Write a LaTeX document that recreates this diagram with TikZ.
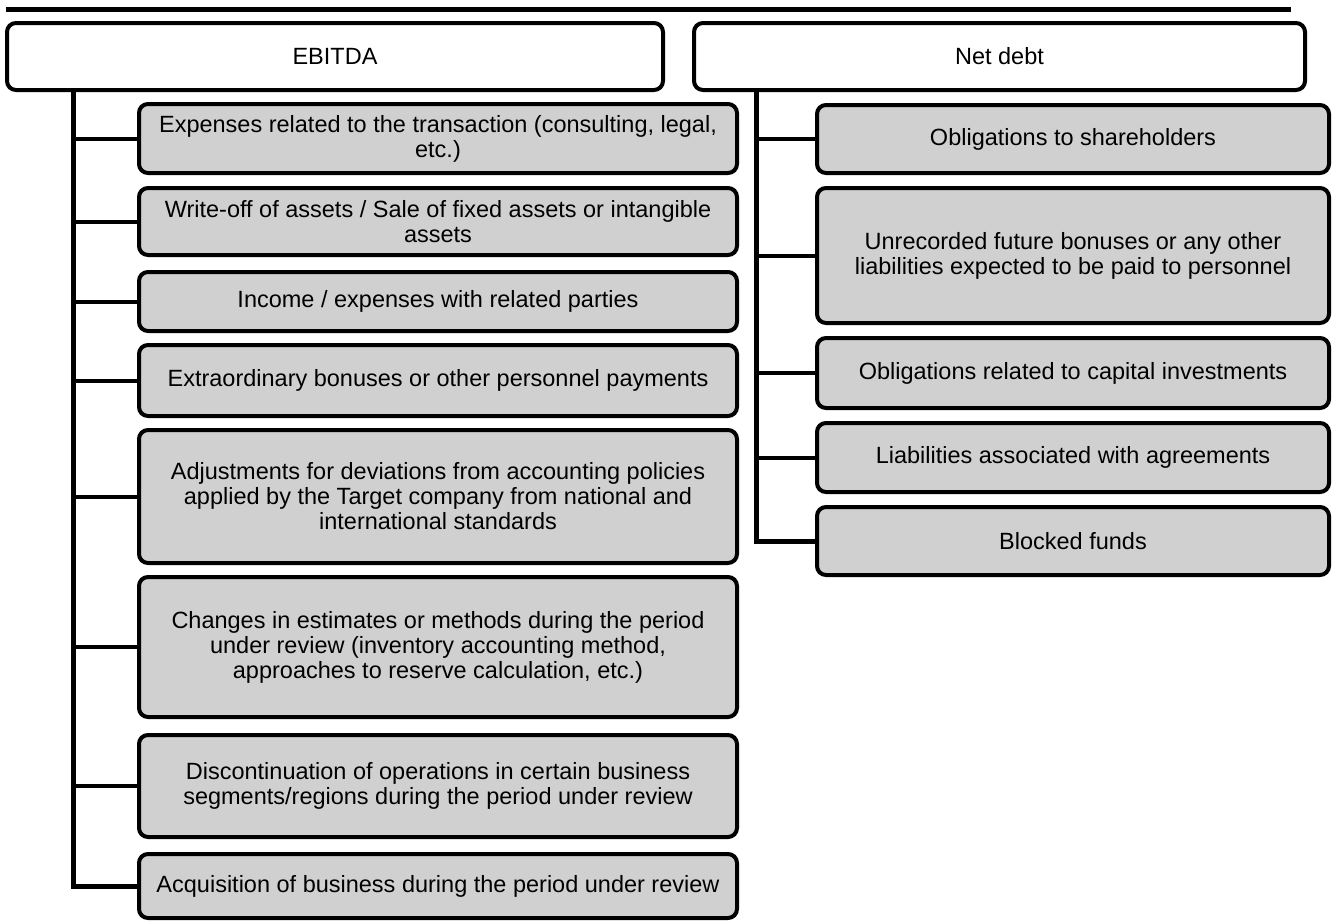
\documentclass[tikz,border=0pt]{standalone}
\usepackage{fontspec}
\setmainfont{Liberation Sans}
\definecolor{boxgray}{RGB}{208,208,208}
\tikzset{
  headbox/.style={draw=black, line width=4pt, rounded corners=9pt, fill=white,
    inner sep=0pt, align=center, font=\fontsize{23.5}{25}\selectfont},
  itembox/.style={headbox, fill=boxgray},
  trunk/.style={line width=5pt},
  branch/.style={line width=4pt},
  topbar/.style={line width=5pt}
}
\begin{document}
\begin{tikzpicture}[x=1pt, y=-1pt]
\useasboundingbox (0,0) rectangle (1336,921);
% top rule
\coordinate (barL) at (6,9.5);
\coordinate (barR) at (1291,9.5);
\draw[topbar] (barL) -- (barR);

% headers
\node[headbox, minimum width=656pt, minimum height=67pt] (ebitda) at (335,56.5) {EBITDA};
\node[headbox, minimum width=611pt, minimum height=67pt] (netdebt) at (999.5,56.5) {Net debt};

% left items
\node[itembox, minimum width=598pt, minimum height=69pt] (L1) at (438,138.5) {Expenses related to the transaction (consulting, legal,\\etc.)};
\node[itembox, minimum width=598pt, minimum height=67pt] (L2) at (438,221.5) {Write-off of assets / Sale of fixed assets or intangible\\assets};
\node[itembox, minimum width=598pt, minimum height=59pt] (L3) at (438,301.5) {Income / expenses with related parties};
\node[itembox, minimum width=598pt, minimum height=71pt] (L4) at (438,380.5) {Extraordinary bonuses or other personnel payments};
\node[itembox, minimum width=598pt, minimum height=133pt] (L5) at (438,496.5) {Adjustments for deviations from accounting policies\\applied by the Target company from national and\\international standards};
\node[itembox, minimum width=598pt, minimum height=140pt] (L6) at (438,647) {Changes in estimates or methods during the period\\under review (inventory accounting method,\\approaches to reserve calculation, etc.)};
\node[itembox, minimum width=598pt, minimum height=102pt] (L7) at (438,786) {Discontinuation of operations in certain business\\segments/regions during the period under review};
\node[itembox, minimum width=598pt, minimum height=64pt] (L8) at (438,886) {Acquisition of business during the period under review};

% right items
\node[itembox, minimum width=512pt, minimum height=68pt] (R1) at (1073,139) {Obligations to shareholders};
\node[itembox, minimum width=512pt, minimum height=135pt] (R2) at (1073,255.5) {Unrecorded future bonuses or any other\\liabilities expected to be paid to personnel};
\node[itembox, minimum width=512pt, minimum height=70pt] (R3) at (1073,373) {Obligations related to capital investments};
\node[itembox, minimum width=512pt, minimum height=69pt] (R4) at (1073,457.5) {Liabilities associated with agreements};
\node[itembox, minimum width=512pt, minimum height=68pt] (R5) at (1073,541) {Blocked funds};

% trunks
\coordinate (lt) at (73,90);
\coordinate (rt) at (756,90);
\draw[trunk, line join=miter] (lt) |- (L8.west);
\draw[trunk, line join=miter] (rt) |- (R5.west);
% branches
\foreach \n in {L1,L2,L3,L4,L5,L6,L7}{
  \draw[branch] (\n.west) -- (\n.west -| lt);
}
\foreach \n in {R1,R2,R3,R4}{
  \draw[branch] (\n.west) -- (\n.west -| rt);
}
\end{tikzpicture}
\end{document}
